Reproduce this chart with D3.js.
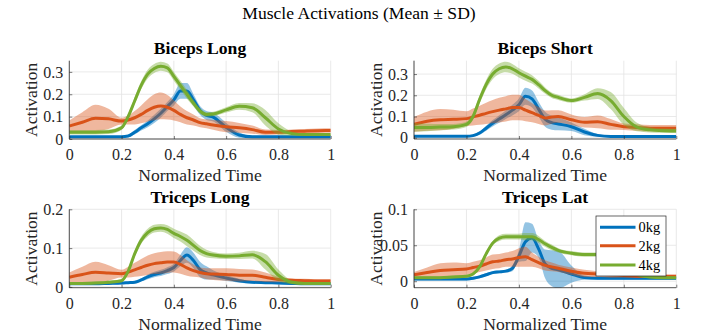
<!DOCTYPE html>
<html>
<head>
<meta charset="utf-8">
<script src="https://cdn.jsdelivr.net/npm/d3@7"></script>
<style>
  body { margin: 0; background: #fff; }
  svg { display: block; }
  text { font-family: "Liberation Serif", "Times New Roman", serif; }
</style>
</head>
<body>
<div id="chart"></div>
<script>
// normalized time samples shared by every series
const timePts = [0, .05, .1, .15, .2, .225, .25, .275, .3, .325, .35, .375, .4, .425, .45, .475, .5, .525, .55, .6, .65, .7, .75, .8, .85, .9, .95, 1];

const loads = ['0kg', '2kg', '4kg'];
const muscles = ['Biceps Long', 'Biceps Short', 'Triceps Long', 'Triceps Lat'];
const xTicks = [0, 0.2, 0.4, 0.6, 0.8, 1];
const yTicksBL = [0, 0.1, 0.2, 0.3];
const yTicksBS = [0, 0.1, 0.2, 0.3];
const yTicksTLo = [0, 0.1, 0.2];
const yTicksTLa = [0, 0.05, 0.1];

// Biceps Long
const blMean0 = [.01, .01, .01, .01, .01, .013, .03, .05, .068, .09, .115, .145, .175, .215, .215, .175, .128, .105, .098, .052, .018, .01, .01, .01, .01, .01, .01, .01];
const blSd0   = [.003, .003, .003, .003, .003, .005, .01, .012, .015, .018, .02, .02, .025, .035, .035, .025, .02, .02, .02, .02, .012, .005, .004, .004, .004, .004, .004, .004];
const blMean2 = [.058, .075, .093, .09, .08, .085, .095, .11, .128, .142, .148, .142, .128, .11, .095, .085, .073, .068, .063, .055, .05, .042, .03, .03, .033, .035, .037, .038];
const blSd2   = [.025, .045, .06, .045, .015, .02, .03, .04, .05, .058, .06, .055, .045, .035, .03, .025, .02, .02, .022, .025, .022, .018, .012, .01, .01, .01, .01, .01];
const blMean4 = [.03, .03, .03, .032, .05, .1, .17, .24, .29, .315, .325, .318, .28, .24, .2, .16, .125, .11, .112, .13, .146, .14, .095, .045, .024, .02, .02, .02];
const blSd4   = [.01, .01, .01, .01, .01, .012, .015, .018, .02, .02, .02, .02, .02, .02, .02, .015, .012, .01, .01, .012, .015, .02, .035, .025, .01, .005, .005, .005];

// Biceps Short
const bsMean0 = [.007, .007, .007, .007, .007, .01, .022, .045, .068, .088, .108, .13, .155, .195, .183, .135, .087, .071, .065, .052, .027, .011, .006, .006, .006, .006, .006, .006];
const bsSd0   = [.003, .003, .003, .003, .003, .005, .008, .012, .015, .018, .02, .025, .03, .04, .04, .035, .035, .033, .03, .02, .015, .006, .003, .003, .003, .003, .003, .003];
const bsMean2 = [.063, .078, .085, .087, .09, .098, .106, .115, .123, .13, .136, .142, .142, .13, .118, .105, .093, .098, .1, .085, .073, .075, .063, .052, .048, .045, .045, .045];
const bsSd2   = [.035, .045, .05, .045, .035, .04, .045, .05, .055, .058, .06, .06, .06, .052, .045, .04, .035, .032, .03, .025, .025, .03, .025, .015, .015, .015, .015, .015];
const bsMean4 = [.048, .048, .05, .052, .063, .1, .18, .25, .3, .325, .333, .325, .306, .29, .275, .25, .222, .2, .19, .175, .19, .208, .175, .1, .05, .037, .033, .032];
const bsSd4   = [.02, .018, .015, .013, .012, .015, .02, .022, .025, .025, .025, .023, .022, .021, .02, .018, .015, .013, .012, .01, .015, .025, .04, .04, .02, .012, .01, .01];

// Triceps Long
const tloMean0 = [.008, .008, .008, .009, .01, .011, .012, .018, .026, .032, .036, .042, .05, .068, .082, .068, .045, .036, .031, .023, .016, .012, .011, .01, .009, .008, .008, .008];
const tloSd0   = [.003, .003, .003, .003, .003, .003, .003, .004, .006, .007, .008, .009, .01, .015, .02, .02, .02, .017, .012, .008, .005, .003, .003, .003, .003, .003, .003, .003];
const tloMean2 = [.025, .032, .038, .036, .034, .038, .044, .05, .056, .06, .062, .064, .064, .058, .049, .042, .037, .034, .033, .032, .03, .03, .025, .019, .017, .016, .015, .015];
const tloSd2   = [.012, .02, .027, .02, .01, .014, .018, .022, .025, .027, .028, .028, .027, .024, .02, .016, .013, .014, .015, .016, .016, .015, .012, .007, .005, .005, .005, .005];
const tloMean4 = [.009, .009, .01, .012, .016, .04, .085, .12, .14, .15, .152, .148, .138, .13, .12, .107, .094, .086, .082, .079, .08, .083, .065, .03, .012, .009, .009, .009];
const tloSd4   = [.004, .004, .004, .004, .004, .006, .008, .009, .01, .01, .01, .011, .012, .013, .015, .014, .012, .01, .008, .007, .008, .01, .02, .015, .005, .003, .003, .003];

// Triceps Lat
const tlaMean0 = [.003, .003, .003, .003, .003, .004, .006, .009, .012, .013, .014, .018, .035, .055, .06, .045, .024, .018, .016, .01, .005, .004, .004, .004, .004, .004, .004, .004];
const tlaSd0   = [.002, .002, .002, .002, .002, .002, .002, .002, .002, .002, .002, .004, .008, .027, .02, .012, .02, .025, .026, .012, .003, .002, .002, .002, .002, .002, .002, .002];
const tlaMean2 = [.009, .012, .015, .016, .017, .019, .021, .024, .027, .028, .03, .031, .033, .034, .03, .026, .022, .02, .018, .014, .011, .01, .009, .008, .007, .007, .007, .007];
const tlaSd2   = [.004, .007, .01, .01, .008, .008, .008, .009, .01, .01, .01, .011, .013, .014, .01, .008, .007, .006, .005, .005, .005, .004, .004, .003, .002, .002, .002, .002];
const tlaMean4 = [.005, .005, .005, .006, .007, .01, .02, .038, .053, .06, .062, .062, .062, .062, .062, .058, .052, .047, .043, .039, .037, .037, .033, .022, .01, .006, .005, .005];
const tlaSd4   = [.002, .002, .002, .002, .002, .002, .003, .003, .003, .004, .004, .004, .004, .005, .005, .005, .004, .004, .003, .003, .003, .003, .004, .004, .003, .002, .002, .002];

const colors = ['#0072BD', '#D95319', '#77AC30'];

const width = 718, height = 335;

const svg = d3.select('#chart')
    .append('svg')
    .attr('width', width)
    .attr('height', height);

// panels: pixel box of each axes plus its y-range
const panels = [
    { name: muscles[0], box: [69.3, 330.7, 60.7, 139], yDom: [0, 0.35], yTicks: yTicksBL,
      means: [blMean0, blMean2, blMean4], sds: [blSd0, blSd2, blSd4] },
    { name: muscles[1], box: [414, 676.3, 60.7, 139], yDom: [-0.006, 0.363], yTicks: yTicksBS,
      means: [bsMean0, bsMean2, bsMean4], sds: [bsSd0, bsSd2, bsSd4] },
    { name: muscles[2], box: [69.3, 330.7, 209.3, 287.7], yDom: [-0.002, 0.2], yTicks: yTicksTLo,
      means: [tloMean0, tloMean2, tloMean4], sds: [tloSd0, tloSd2, tloSd4] },
    { name: muscles[3], box: [414, 676.3, 209.3, 287.7], yDom: [-0.009, 0.1], yTicks: yTicksTLa,
      means: [tlaMean0, tlaMean2, tlaMean4], sds: [tlaSd0, tlaSd2, tlaSd4], legend: true }
];

// main title
svg.append('text')
    .attr('x', 359)
    .attr('y', 19)
    .attr('text-anchor', 'middle')
    .style('font-size', '17.6px')
    .attr('fill', '#000')
    .text('Muscle Activations (Mean ± SD)');

panels.forEach((p, pi) => {
    const [x0, x1, y0, y1] = p.box;
    const x = d3.scaleLinear().domain([0, 1]).range([x0, x1]);
    const y = d3.scaleLinear().domain(p.yDom).range([y1, y0]);

    const g = svg.append('g').attr('class', 'panel');

    // grid
    g.append('g').selectAll('line.gx')
        .data(xTicks)
        .join('line')
        .attr('x1', d => x(d)).attr('x2', d => x(d))
        .attr('y1', y0).attr('y2', y1)
        .attr('stroke', '#e3e3e3').attr('stroke-width', 0.8);
    g.append('g').selectAll('line.gy')
        .data(p.yTicks)
        .join('line')
        .attr('x1', x0).attr('x2', x1)
        .attr('y1', d => y(d)).attr('y2', d => y(d))
        .attr('stroke', '#e3e3e3').attr('stroke-width', 0.8);

    // clip
    const clipId = 'clip' + pi;
    svg.append('clipPath').attr('id', clipId)
        .append('rect')
        .attr('x', x0).attr('y', y0)
        .attr('width', x1 - x0).attr('height', y1 - y0);

    const plot = g.append('g').attr('clip-path', `url(#${clipId})`);

    const area = d3.area()
        .x((d, i) => x(timePts[i]))
        .y0(d => y(d[0] - d[1]))
        .y1(d => y(d[0] + d[1]))
        .curve(d3.curveMonotoneX);

    const line = d3.line()
        .x((d, i) => x(timePts[i]))
        .y(d => y(d))
        .curve(d3.curveMonotoneX);

    p.means.forEach((m, si) => {
        const band = m.map((v, i) => [v, p.sds[si][i]]);
        plot.append('path')
            .datum(band)
            .attr('d', area)
            .attr('fill', colors[si])
            .attr('fill-opacity', 0.42)
            .attr('stroke', 'none');
        plot.append('path')
            .datum(m)
            .attr('d', line)
            .attr('fill', 'none')
            .attr('stroke', colors[si])
            .attr('stroke-width', 3);
    });

    // axes
    const xAxis = d3.axisBottom(x)
        .tickValues(xTicks)
        .tickSize(-3)
        .tickPadding(9.5)
        .tickFormat(d3.format('~g'));
    const yAxis = d3.axisLeft(y)
        .tickValues(p.yTicks)
        .tickSize(-3)
        .tickPadding(6)
        .tickFormat(d3.format('~g'));

    const xg = g.append('g')
        .attr('transform', `translate(0, ${y1})`)
        .call(xAxis);
    const yg = g.append('g')
        .attr('transform', `translate(${x0}, 0)`)
        .call(yAxis);

    [xg, yg].forEach(a => {
        a.select('.domain').attr('stroke', '#262626').attr('stroke-width', 0.8);
        a.selectAll('.tick line').attr('stroke', '#262626').attr('stroke-width', 0.6);
        a.selectAll('.tick text')
            .attr('fill', '#262626')
            .style('font-size', '16px')
            .style('font-family', '"Liberation Serif", "Times New Roman", serif');
    });
    // box off: left axis domain without outer ticks
    yg.select('.domain').attr('d', `M0,${y0}V${y1}`);
    xg.select('.domain').attr('d', `M${x0},0H${x1}`);

    // labels
    g.append('text')
        .attr('x', (x0 + x1) / 2)
        .attr('y', y1 + 42)
        .attr('text-anchor', 'middle')
        .style('font-size', '17.6px')
        .attr('fill', '#262626')
        .text('Normalized Time');

    g.append('text')
        .attr('transform', `translate(${x0 - 32}, ${(y0 + y1) / 2}) rotate(-90)`)
        .attr('text-anchor', 'middle')
        .style('font-size', '17.6px')
        .attr('fill', '#262626')
        .text('Activation');

    g.append('text')
        .attr('x', (x0 + x1) / 2)
        .attr('y', y0 - 6.5)
        .attr('text-anchor', 'middle')
        .style('font-size', '17.6px')
        .style('font-weight', 'bold')
        .attr('fill', '#000')
        .text(p.name);

    if (p.legend) {
        const lg = g.append('g').attr('class', 'legend');
        lg.append('rect')
            .attr('x', 596).attr('y', 216)
            .attr('width', 70).attr('height', 60)
            .attr('fill', '#fff')
            .attr('stroke', '#262626')
            .attr('stroke-width', 0.7);
        const rowY = [227.3, 245.8, 265];
        loads.forEach((l, i) => {
            lg.append('line')
                .attr('x1', 600).attr('x2', 635.5)
                .attr('y1', rowY[i]).attr('y2', rowY[i])
                .attr('stroke', colors[i])
                .attr('stroke-width', 3);
            lg.append('text')
                .attr('x', 638.5)
                .attr('y', rowY[i])
                .attr('dy', '0.35em')
                .style('font-size', '14.4px')
                .attr('fill', '#000')
                .text(l);
        });
    }
});
</script>
</body>
</html>
